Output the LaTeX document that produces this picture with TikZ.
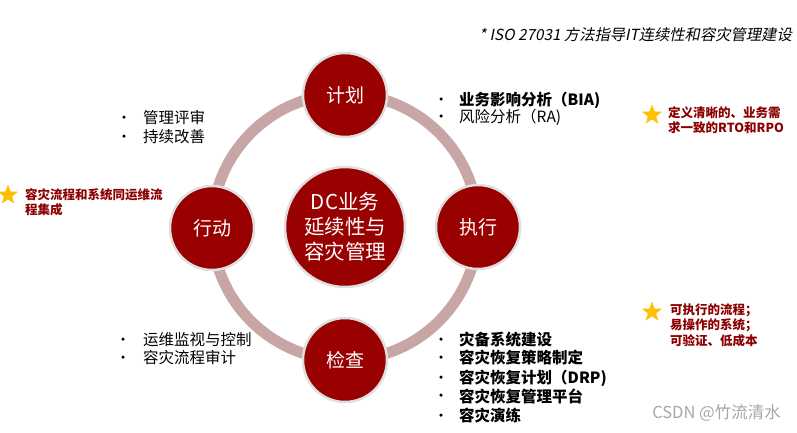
\documentclass[tikz,border=0pt]{standalone}
\usepackage{fontspec}
\setmainfont{Noto Sans CJK SC}
\newfontfamily\slfont{Noto Sans CJK SC}[FakeSlant=0.2]
\usetikzlibrary{shapes.geometric}

\definecolor{ringred}{HTML}{C9A6A6}
\definecolor{phasered}{HTML}{990000}
\definecolor{notered}{HTML}{8B0000}
\definecolor{stargold}{HTML}{FFC000}

\tikzset{
  phase/.style={circle, fill=phasered, draw=gray!25, line width=2.5pt,
    minimum size=84pt, inner sep=0pt, text=white,
    font=\fontsize{19}{21}\selectfont},
  hub/.style={phase, minimum size=120pt, align=center,
    font=\fontsize{20.5}{25}\selectfont},
  item/.style={anchor=west, inner sep=0pt, font=\fontsize{15.5}{17}\selectfont},
  bolditem/.style={item, font=\bfseries\fontsize{15.5}{17}\selectfont},
  dot/.style={circle, fill=black, inner sep=0pt, minimum size=3.5pt},
  note/.style={anchor=west, align=left, inner sep=0pt, text=notered,
    font=\bfseries\fontsize{12.5}{15.5}\selectfont},
  goldstar/.style={star, star points=5, star point ratio=2.4, fill=stargold,
    inner sep=0pt, minimum size=21pt}
}

\begin{document}
\begin{tikzpicture}[x=1pt, y=-1pt]
  \useasboundingbox (0,0) rectangle (797,432);

  % ring and the four phases
  \coordinate (mid) at (345,227);
  \draw[ringred, line width=11pt] (mid) circle (133);
  \node[hub] (core) at (mid) {DC业务\\延续性与\\容灾管理};
  \node[phase] (plan) at (345,95) {计划};
  \node[phase] (exec) at (478,227) {执行};
  \node[phase] (check) at (345,360) {检查};
  \node[phase] (act) at (212,228) {行动};

  % title
  \node[anchor=east, inner sep=0pt, font=\slfont\fontsize{15.3}{17}\selectfont]
    (title) at (792,35) {* ISO 27031 方法指导IT连续性和容灾管理建设};

  % plan items
  \node[dot] (d1) at (441,99) {};
  \node[bolditem] (bia) at (459,100) {业务影响分析（BIA)};
  \node[dot] (d2) at (441,116) {};
  \node[item] (ra) at (459,117) {风险分析（RA)};

  % act items
  \node[dot] (d3) at (124,117) {};
  \node[item] (review) at (143,118) {管理评审};
  \node[dot] (d4) at (124,136) {};
  \node[item] (improve) at (143,137) {持续改善};

  % check items
  \node[dot] (d5) at (123,339) {};
  \node[item] (monitor) at (143,340) {运维监视与控制};
  \node[dot] (d6) at (123,357) {};
  \node[item] (audit) at (143,358) {容灾流程审计};

  % exec items
  \node[dot] (d7) at (441,339) {};
  \node[bolditem] (build) at (459,340) {灾备系统建设};
  \node[dot] (d8) at (441,357) {};
  \node[bolditem] (policy) at (459,358) {容灾恢复策略制定};
  \node[dot] (d9) at (441,377) {};
  \node[bolditem] (drp) at (459,378) {容灾恢复计划（DRP)};
  \node[dot] (d10) at (441,395) {};
  \node[bolditem] (platform) at (459,396) {容灾恢复管理平台};
  \node[dot] (d11) at (441,415) {};
  \node[bolditem] (drill) at (459,416) {容灾演练};

  % notes
  \node[goldstar] (s1) at (652,115) {};
  \node[note] (n1) at (668,120) {定义清晰的、业务需\\求一致的RTO和RPO};
  \node[goldstar] (s2) at (8,195) {};
  \node[note] (n2) at (25,202) {容灾流程和系统同运维流\\程集成};
  \node[goldstar] (s3) at (652,312) {};
  \node[note] (n3) at (670,325) {可执行的流程；\\易操作的系统；\\可验证、低成本};

  % watermark
  \node[anchor=east, inner sep=0pt, text=gray!70, font=\fontsize{16.5}{18}\selectfont]
    (mark1) at (781,413) {CSDN @竹流清水};
\end{tikzpicture}
\end{document}
